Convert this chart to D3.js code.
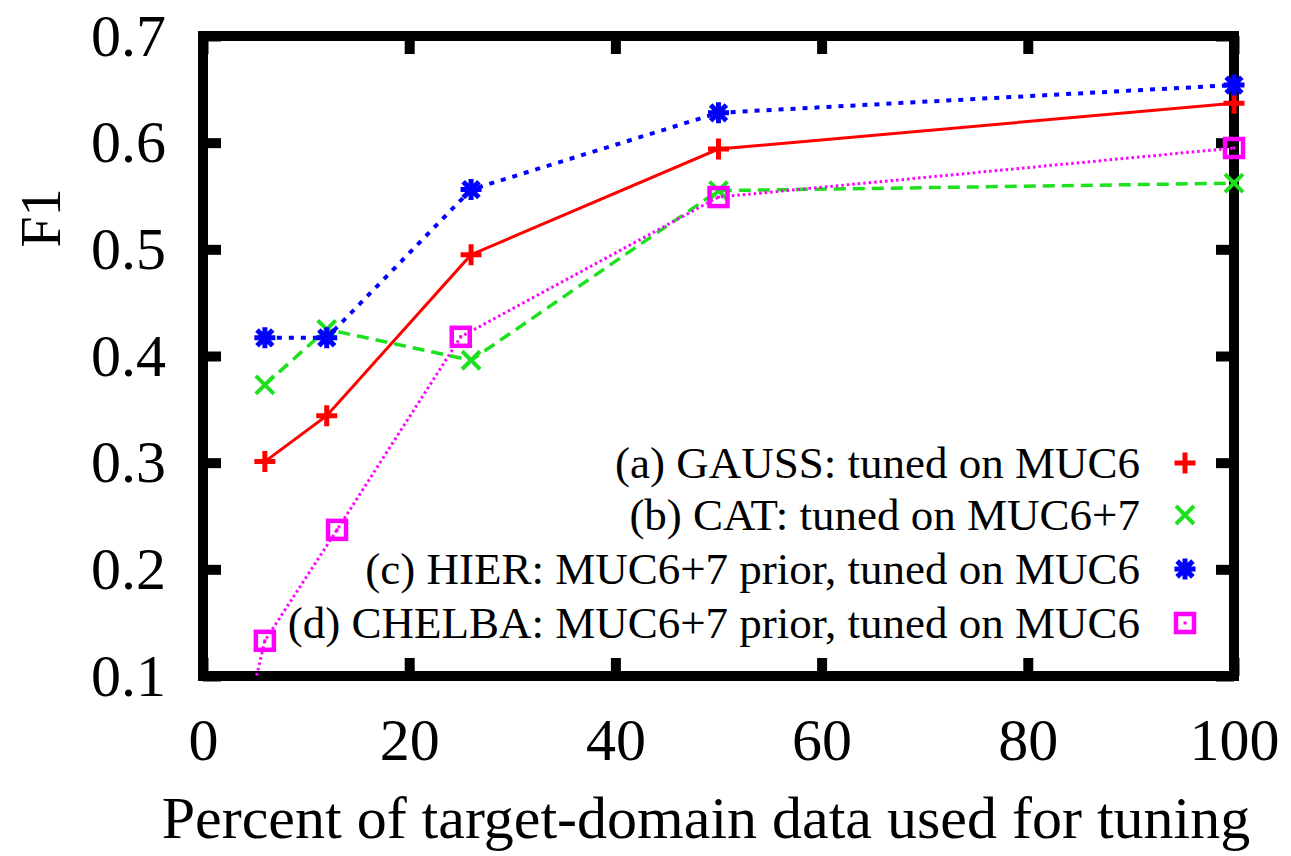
<!DOCTYPE html>
<html>
<head>
<meta charset="utf-8">
<script src="https://cdn.jsdelivr.net/npm/d3@7"></script>
<style>
  body { margin: 0; background: #fff; }
  svg text { font-family: 'Liberation Serif', 'Times New Roman', serif; fill: #000; }
</style>
</head>
<body>
<svg id="chart"></svg>
<script>
// Datos
const xPct = [6, 12, 26, 50, 100];
const xPctChelba = [3, 6, 13, 25, 50, 100];
const gauss = [0.301, 0.344, 0.495, 0.594, 0.637];
const cat = [0.373, 0.425, 0.396, 0.555, 0.562];
const hier = [0.417, 0.417, 0.556, 0.628, 0.654];
const chelba = [0.01, 0.133, 0.237, 0.418, 0.549, 0.595];
const seriesNames = [
    '(a) GAUSS: tuned on MUC6',
    '(b) CAT: tuned on MUC6+7',
    '(c) HIER: MUC6+7 prior, tuned on MUC6',
    '(d) CHELBA: MUC6+7 prior, tuned on MUC6'
];
const xTicks = [0, 20, 40, 60, 80, 100];
const yTicks = [0.1, 0.2, 0.3, 0.4, 0.5, 0.6, 0.7];

// Dimensiones del SVG
const width = 1291;
const height = 856;
const plotLeft = 203, plotRight = 1234, plotTop = 36, plotBottom = 676;

const svg = d3.select('#chart')
    .attr('width', width)
    .attr('height', height);

const x = d3.scaleLinear().domain([0, 100]).range([plotLeft, plotRight]);
const y = d3.scaleLinear().domain([0.1, 0.7]).range([plotBottom, plotTop]);

// Estilo de cada serie
const series = [
    { name: seriesNames[0], xs: xPct, ys: gauss, color: '#ff0000', dash: null, lw: 3, marker: 'plus' },
    { name: seriesNames[1], xs: xPct, ys: cat, color: '#1ee01e', dash: '12,7', lw: 3.5, marker: 'cross' },
    { name: seriesNames[2], xs: xPct, ys: hier, color: '#0000ff', dash: '5,7', lw: 4, marker: 'star' },
    { name: seriesNames[3], xs: xPctChelba, ys: chelba, color: '#ff00ff', dash: '2.5,3', lw: 3, marker: 'square' }
];

svg.append('clipPath').attr('id', 'plot-clip')
    .append('rect')
    .attr('x', plotLeft).attr('y', plotTop)
    .attr('width', plotRight - plotLeft).attr('height', plotBottom - plotTop);

// Marco
svg.append('rect')
    .attr('x', plotLeft).attr('y', plotTop)
    .attr('width', plotRight - plotLeft).attr('height', plotBottom - plotTop)
    .attr('fill', 'none')
    .attr('stroke', '#000')
    .attr('stroke-width', 10);

// Ejes con marcas hacia dentro
const styleAxis = g => {
    g.select('.domain').remove();
    g.selectAll('.tick line').attr('stroke', '#000').attr('stroke-width', 10);
    g.selectAll('.tick text').attr('font-size', 60).attr('font-family', null);
};

svg.append('g')
    .attr('transform', `translate(0,${plotBottom})`)
    .call(d3.axisBottom(x).tickValues(xTicks).tickSizeInner(-18).tickSizeOuter(0).tickPadding(41))
    .call(styleAxis);

svg.append('g')
    .attr('transform', `translate(0,${plotTop})`)
    .call(d3.axisTop(x).tickValues(xTicks).tickSizeInner(-18).tickSizeOuter(0).tickFormat(''))
    .call(styleAxis);

svg.append('g')
    .attr('transform', `translate(${plotLeft},0)`)
    .call(d3.axisLeft(y).tickValues(yTicks).tickSizeInner(-18).tickSizeOuter(0).tickPadding(37).tickFormat(d3.format('.1f')))
    .call(styleAxis);

svg.append('g')
    .attr('transform', `translate(${plotRight},0)`)
    .call(d3.axisRight(y).tickValues(yTicks).tickSizeInner(-18).tickSizeOuter(0).tickFormat(''))
    .call(styleAxis);

// Títulos de los ejes
svg.append('text')
    .attr('x', 706)
    .attr('y', 838)
    .attr('text-anchor', 'middle')
    .attr('font-size', 60)
    .text('Percent of target-domain data used for tuning');

svg.append('text')
    .attr('transform', 'translate(60,218) rotate(-90)')
    .attr('text-anchor', 'middle')
    .attr('font-size', 56)
    .text('F1');

// Marcadores
const markerPath = (type, s) => {
    if (type === 'plus') return `M${-s},0H${s}M0,${-s}V${s}`;
    if (type === 'cross') return `M${-s},${-s}L${s},${s}M${-s},${s}L${s},${-s}`;
    if (type === 'star') {
        const d = s * 0.75;
        return `M${-s},0H${s}M0,${-s}V${s}M${-d},${-d}L${d},${d}M${-d},${d}L${d},${-d}`;
    }
    return null;
};

const drawMarker = (g, type, color) => {
    if (type === 'square') {
        g.append('rect')
            .attr('x', -9).attr('y', -9)
            .attr('width', 18).attr('height', 18)
            .attr('fill', 'none')
            .attr('stroke', color)
            .attr('stroke-width', 4.5);
        g.append('rect')
            .attr('x', -1.5).attr('y', -1.5)
            .attr('width', 3).attr('height', 3)
            .attr('fill', color);
    } else {
        g.append('path')
            .attr('d', markerPath(type, type === 'cross' ? 9 : 10.5))
            .attr('fill', 'none')
            .attr('stroke', color)
            .attr('stroke-width', type === 'cross' ? 4 : 5);
    }
};

const line = d3.line()
    .x(d => x(d[0]))
    .y(d => y(d[1]));

series.forEach(s => {
    const pts = s.xs.map((v, i) => [v, s.ys[i]]);

    svg.append('path')
        .datum(pts)
        .attr('clip-path', 'url(#plot-clip)')
        .attr('d', line)
        .attr('fill', 'none')
        .attr('stroke', s.color)
        .attr('stroke-width', s.lw)
        .attr('stroke-dasharray', s.dash);

    // solo puntos dentro del rango
    const inside = pts.filter(p => p[1] >= 0.1);
    svg.append('g').selectAll('g')
        .data(inside)
        .enter().append('g')
        .attr('transform', d => `translate(${x(d[0])},${y(d[1])})`)
        .each(function () { drawMarker(d3.select(this), s.marker, s.color); });
});

// Leyenda
const legendY = [463, 515, 569, 623];
const legend = svg.append('g');

series.forEach((s, i) => {
    legend.append('text')
        .attr('x', 1140)
        .attr('y', legendY[i] + 15)
        .attr('text-anchor', 'end')
        .attr('font-size', 45)
        .text(s.name);

    const g = legend.append('g')
        .attr('transform', `translate(1185,${legendY[i]})`);
    drawMarker(g, s.marker, s.color);
});
</script>
</body>
</html>
